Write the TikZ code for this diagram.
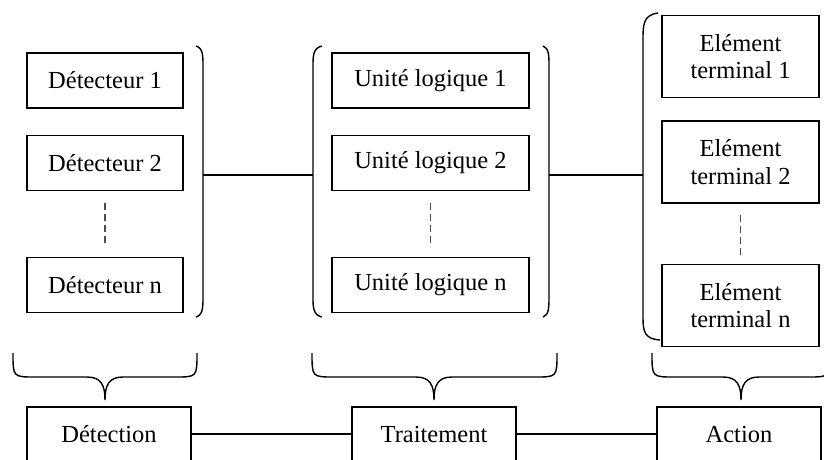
\documentclass[tikz,border=0pt]{standalone}
\usepackage{fontspec}
\setmainfont{Liberation Serif}
\begin{document}
\begin{tikzpicture}[x=1pt,y=-1pt,
  unitbox/.style={draw, line width=1.3pt, inner sep=0pt, align=center,
    font=\fontsize{24.5}{27.5}\selectfont},
  detbox/.style={unitbox, minimum width=156pt, minimum height=55pt},
  ulbox/.style={unitbox, minimum width=197pt, minimum height=55pt},
  elbox/.style={unitbox, minimum width=157pt, minimum height=82pt},
  stagebox/.style={unitbox, minimum width=164pt, minimum height=54pt},
  link/.style={line width=1.3pt},
  dots/.style={line width=1.3pt, black!70, dash pattern=on 7pt off 4pt},
  bracket/.style={line width=1.4pt},
  brace/.style={line width=1.4pt}]
\useasboundingbox (0,0) rectangle (824,459);
\clip (0,0) rectangle (824,459);

% detectors
\node[detbox] (d1) at (105,80.5) {Détecteur 1};
\node[detbox] (d2) at (105,163) {Détecteur 2};
\node[detbox] (dn) at (105,285) {Détecteur n};
\draw[dots] (d2.south) ++(0,12) coordinate (dd1) -- (dd1 |- 0,245) coordinate (dd2);

% logic units
\node[ulbox] (u1) at (430.5,80.5) {Unité logique 1};
\node[ulbox] (u2) at (430.5,163) {Unité logique 2};
\node[ulbox] (un) at (430.5,285) {Unité logique n};
\draw[dots] (u2.south) ++(0,12) coordinate (ud1) -- (ud1 |- 0,245);

% terminal elements
\node[elbox] (e1) at (740.5,56.5) {Elément\\terminal 1};
\node[elbox] (e2) at (740.5,162) {Elément\\terminal 2};
\node[elbox] (en) at (740.5,305.5) {Elément\\terminal n};
\draw[dots] (e2.south) ++(0,11) coordinate (ed1) -- (ed1 |- 0,255);

% grouping brackets
\draw[bracket] (196,46) .. controls (203,48) and (203,56) .. (203,66)
  -- (203,297) .. controls (203,307) and (203,315) .. (196,317);
\coordinate (g1) at (203,175);
\draw[bracket] (322,46) .. controls (313,48) and (313,56) .. (313,66)
  -- (313,297) .. controls (313,307) and (313,315) .. (322,317);
\coordinate (g2l) at (313,175);
\draw[bracket] (543,46) .. controls (549,48) and (549,56) .. (549,66)
  -- (549,297) .. controls (549,307) and (549,315) .. (543,317);
\coordinate (g2r) at (549,175);
\draw[bracket] (658,13) .. controls (643,15) and (643,25) .. (643,40)
  -- (643,318) .. controls (643,332) and (645,339) .. (660,340);
\coordinate (g3) at (643,175);

\draw[link] (g1) -- (g2l);
\draw[link] (g2r) -- (g3);

% stages
\node[stagebox] (s1) at (109,434) {Détection};
\node[stagebox] (s2) at (434,434) {Traitement};
\node[stagebox] (s3) at (739,434) {Action};
\draw[link] (s1) -- (s2);
\draw[link] (s2) -- (s3);

% underbraces
\foreach \l/\t/\r [count=\i] in {13/105/197, 312/434/557, 652/741/830} {
  \draw[brace] (\l,353) .. controls (\l,377) .. ({\l+22},377)
    -- ({\t-18},377) .. controls ({\t-4},377) and (\t,385) .. (\t,400)
    coordinate (tip\i)
    .. controls (\t,385) and ({\t+4},377) .. ({\t+18},377)
    -- ({\r-22},377) .. controls (\r,377) .. (\r,353);
}
\end{tikzpicture}
\end{document}
